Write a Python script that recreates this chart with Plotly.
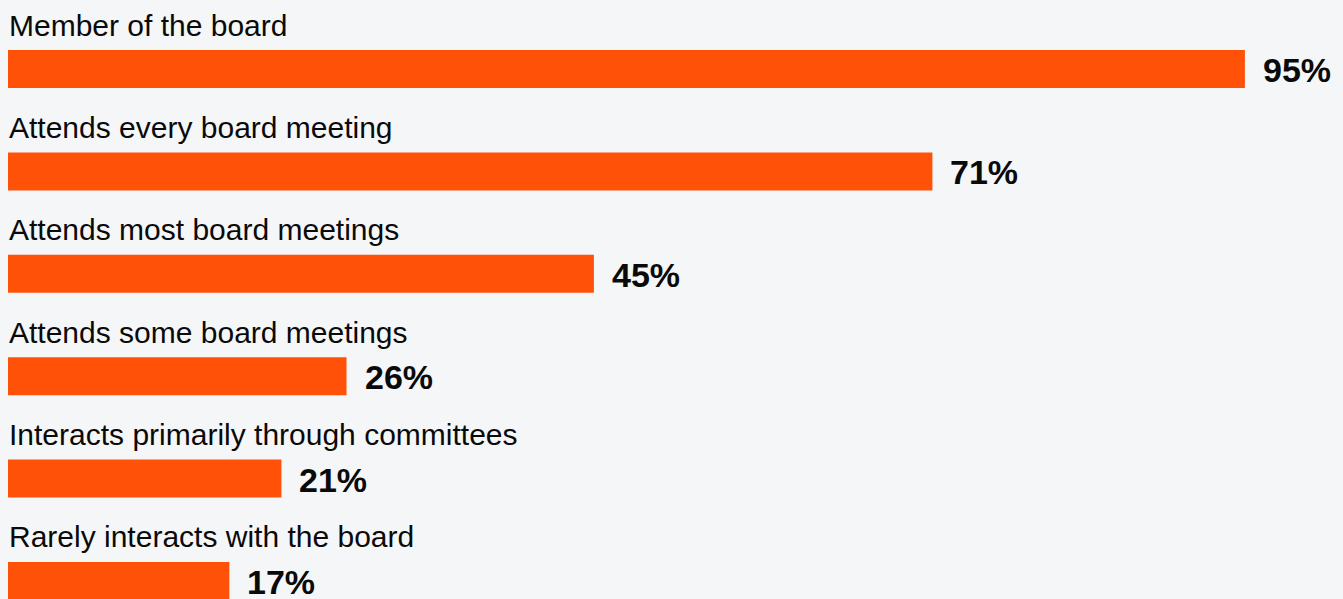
import plotly.graph_objects as go

# Board interaction survey results
categories = [
    "Member of the board",
    "Attends every board meeting",
    "Attends most board meetings",
    "Attends some board meetings",
    "Interacts primarily through committees",
    "Rarely interacts with the board",
]
values = [95, 71, 45, 26, 21, 17]
value_labels = [f"{v}%" for v in values]

BAR_COLOR = "#FF5208"
BG = "#F5F6F8"
FONT = "Helvetica Neue, Helvetica, Arial, Liberation Sans, sans-serif"

W, H = 1343, 599

fig = go.Figure(
    go.Bar(
        x=values,
        y=categories,
        orientation="h",
        marker=dict(color=BAR_COLOR, line=dict(width=0)),
        width=0.371,
        hoverinfo="skip",
    )
)

annotations = []
for cat, val, lab in zip(categories, values, value_labels):
    # category label above the bar
    annotations.append(dict(
        x=0, y=cat, xref="x", yref="y",
        text=cat, showarrow=False,
        xanchor="left", yanchor="middle",
        xshift=-1, yshift=44,
        font=dict(family=FONT, size=30, color="#0a0a0a"),
    ))
    # value label right of the bar
    annotations.append(dict(
        x=val, y=cat, xref="x", yref="y",
        text=f"<b>{lab}</b>", showarrow=False,
        xanchor="left", yanchor="middle",
        xshift=16, yshift=-1,
        font=dict(family=FONT, size=34, color="#0a0a0a"),
    ))

fig.update_layout(
    width=W, height=H,
    margin=dict(l=0, r=0, t=0, b=0),
    paper_bgcolor=BG, plot_bgcolor=BG,
    showlegend=False,
    xaxis=dict(range=[-8 / 13.02, (W - 8) / 13.02], visible=False, fixedrange=True),
    yaxis=dict(
        type="category",
        categoryorder="array", categoryarray=categories,
        range=[5.176, -0.674],
        visible=False, fixedrange=True,
    ),
    annotations=annotations,
)

fig.write_html("out.html")
